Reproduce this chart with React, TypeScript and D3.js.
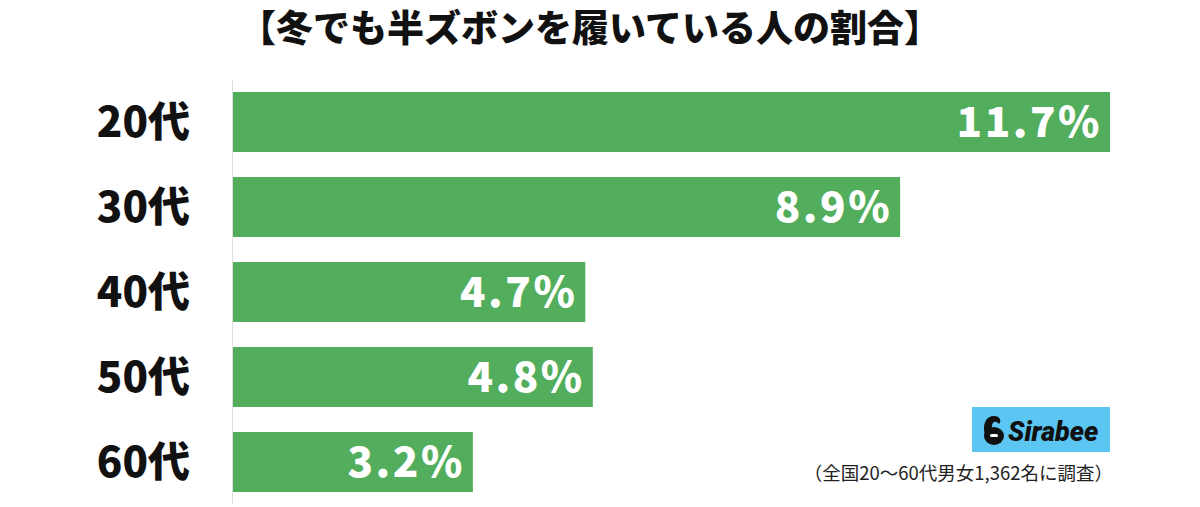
import React from 'react';
import { scaleBand, scaleLinear } from 'd3';

// data
const categories = ['20代', '30代', '40代', '50代', '60代'];
const values = [11.7, 8.9, 4.7, 4.8, 3.2];
const title = '【冬でも半ズボンを履いている人の割合】';
const note = '（全国20〜60代男女1,362名に調査）';

const width = 1200;
const height = 507;
const font = '"Noto Sans CJK JP", "Noto Sans", sans-serif';

export default function App() {
  // band layout for bars
  const yScale = scaleBand<string>()
    .domain(categories)
    .range([79.5, 504.5])
    .paddingInner(25 / 85)
    .paddingOuter(12.5 / 85);

  const xScale = scaleLinear().domain([0, 11.7]).range([233, 1110]);

  return (
    <div style={{ position: 'absolute', left: 0, top: 0 }}>
      <svg width={width} height={height} style={{ display: 'block', background: '#fff' }}>
        <text
          x={590}
          y={42}
          textAnchor="middle"
          fontFamily={font}
          fontWeight={900}
          fontSize={37}
          fill="#111"
        >
          {title}
        </text>

        {/* axis line */}
        <line x1={232.5} x2={232.5} y1={80} y2={504} stroke="#ddd" strokeWidth={1} />

        {categories.map((c, i) => {
          const y = yScale(c) as number;
          const bw = yScale.bandwidth();
          return (
            <g key={c}>
              <rect
                x={xScale(0)}
                y={y}
                width={xScale(values[i]) - xScale(0)}
                height={bw}
                fill="#52ad5c"
              />
              <text
                x={190}
                y={y + bw / 2 + 15}
                textAnchor="end"
                fontFamily={font}
                fontWeight={900}
                fontSize={42}
                fill="#111"
              >
                {c}
              </text>
              <text
                x={xScale(values[i]) - 8}
                y={y + bw / 2 + 15}
                textAnchor="end"
                fontFamily={font}
                fontWeight={900}
                fontSize={42}
                letterSpacing={2.5}
                fill="#fff"
              >
                {values[i].toFixed(1) + '%'}
              </text>
            </g>
          );
        })}

        {/* Sirabee logo */}
        <g>
          <rect x={972} y={407} width={138} height={45} fill="#5bc6f2" />
          <ellipse cx={994} cy={436} rx={10} ry={9} fill="#111" />
          <path
            d="M985,435 C982,424 986,416 994,416 C1000,416 1002,421 999,424 C996,420 991,421 992,429 Z"
            fill="#111"
          />
          <rect x={990} y={434} width={8} height={3} rx={1.5} fill="#fff" />
          <text
            x={1008}
            y={441}
            fontFamily="Roboto, 'Noto Sans', sans-serif"
            fontWeight={900}
            fontStyle="italic"
            fontSize={27}
            fill="#111"
          >
            Sirabee
          </text>
        </g>

        <text
          x={1113}
          y={480}
          textAnchor="end"
          fontFamily={font}
          fontSize={18.5}
          fill="#222"
        >
          {note}
        </text>
      </svg>
    </div>
  );
}
